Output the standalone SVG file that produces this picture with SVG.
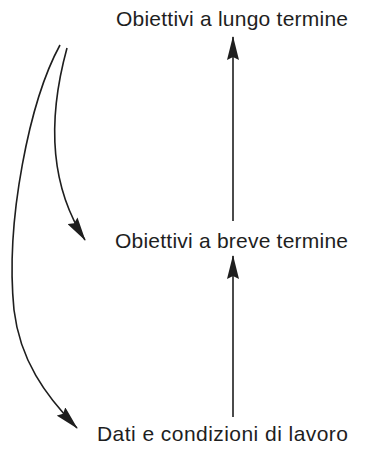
<svg xmlns="http://www.w3.org/2000/svg" width="366" height="452" viewBox="0 0 366 452">
  <style>
    .lbl { font-family: "Liberation Sans", Arial, sans-serif; font-size: 21px; fill: #1e1e1e; }
    .edge { fill: none; stroke: #1e1e1e; stroke-width: 1.6; marker-end: url(#head); }
  </style>
  <defs>
    <marker id="head" viewBox="0 0 24 12" refX="23" refY="6" markerWidth="24" markerHeight="12" markerUnits="userSpaceOnUse" orient="auto">
      <polygon points="0,0 24,6 0,12 3,6" fill="#1e1e1e"/>
    </marker>
  </defs>
  <rect width="366" height="452" fill="#ffffff"/>
  <g id="node-lungo">
    <text class="lbl" x="116" y="26" textLength="232" lengthAdjust="spacing">Obiettivi a lungo termine</text>
  </g>
  <g id="node-breve">
    <text class="lbl" x="115" y="248" textLength="233" lengthAdjust="spacing">Obiettivi a breve termine</text>
  </g>
  <g id="node-dati">
    <text class="lbl" x="97" y="441" textLength="251" lengthAdjust="spacing">Dati e condizioni di lavoro</text>
  </g>
  <g id="connectors">
    <path class="edge" d="M233,221 L233,37"/>
    <path class="edge" d="M233,417 L233,256"/>
    <path class="edge" d="M67,48 C50,110 46,180 85,240"/>
    <path class="edge" d="M60,45 C30,100 5,220 14,310 C20,360 45,395 77,428"/>
  </g>
</svg>
